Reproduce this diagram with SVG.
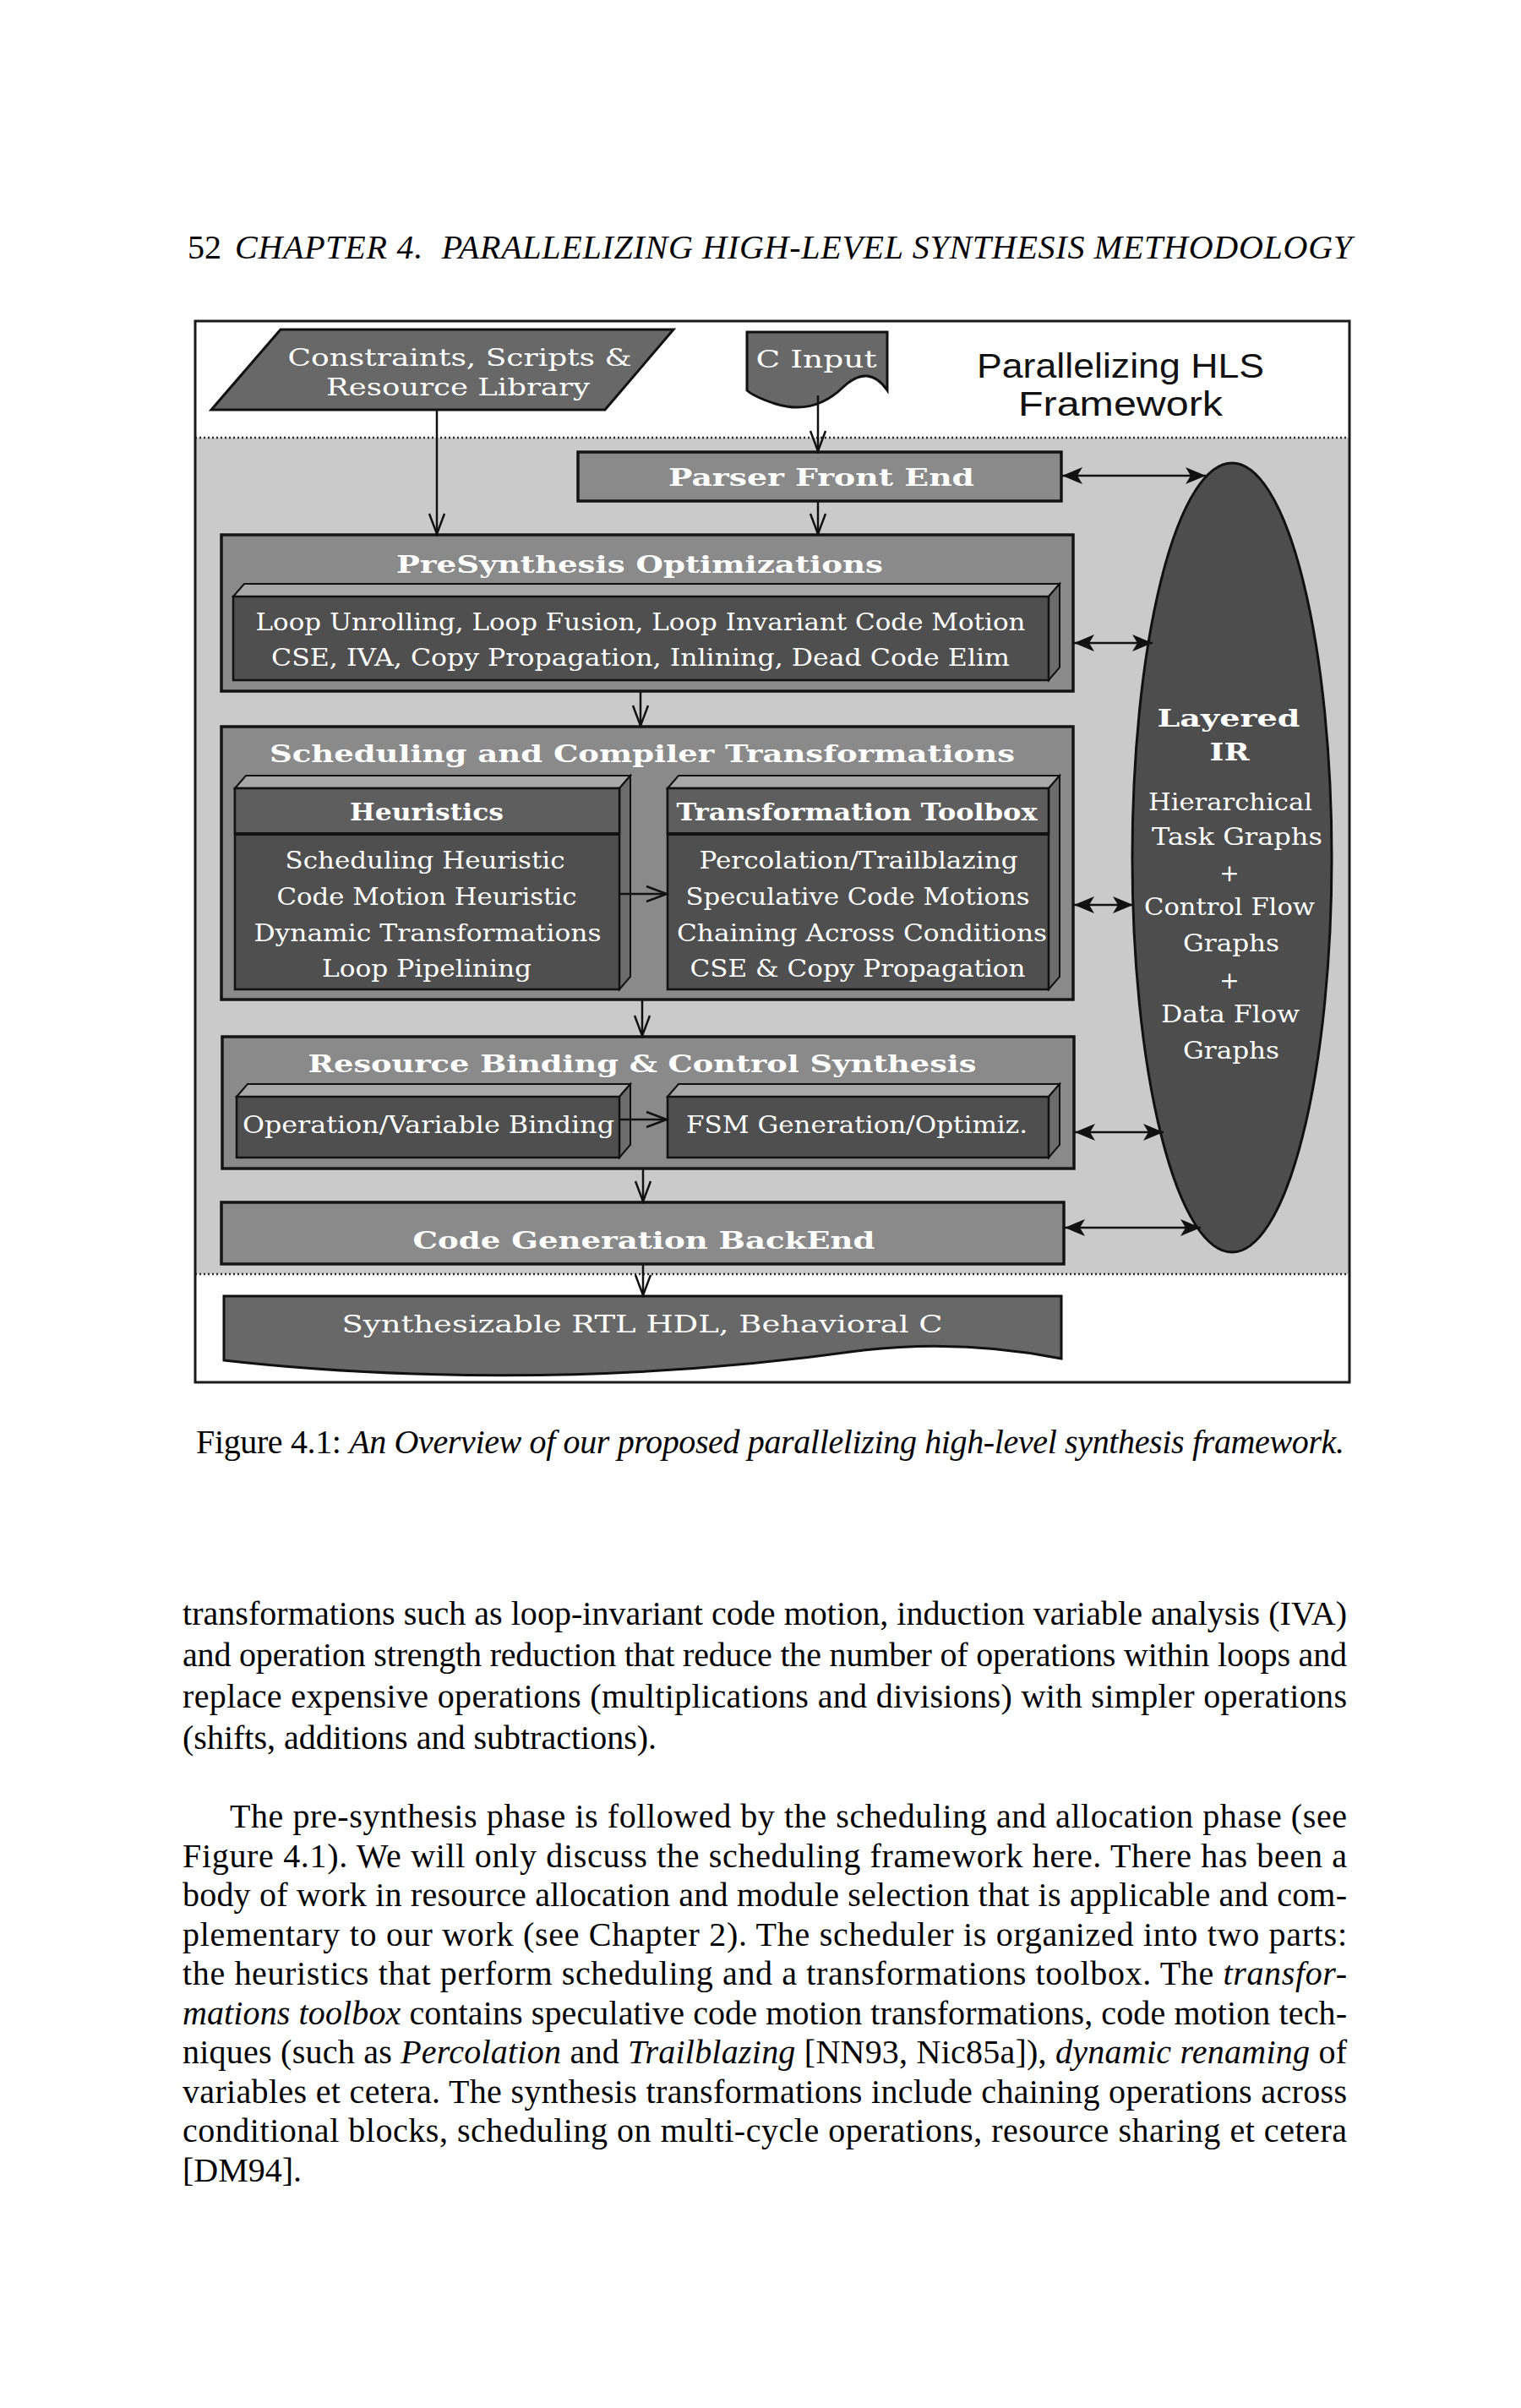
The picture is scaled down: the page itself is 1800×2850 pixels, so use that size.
<svg xmlns="http://www.w3.org/2000/svg" width="1800" height="2850" viewBox="0 0 1800 2850">
<style>
.bg{fill:#ffffff}
.frame{fill:none;stroke:#1a1a1a;stroke-width:3}
.band{fill:#cacaca}
.dots{stroke:#2a2a2a;stroke-width:2.5;stroke-dasharray:2 3;fill:none}
.outer{fill:#8a8a8a;stroke:#141414;stroke-width:3.5}
.front{fill:#4f4f4f;stroke:#111;stroke-width:2.5}
.hdr{fill:#5e5e5e;stroke:#111;stroke-width:2.5}
.topf{fill:#a8a8a8;stroke:#111;stroke-width:2}
.side{fill:#6c6c6c;stroke:#111;stroke-width:2}
.doc{fill:#686868;stroke:#111;stroke-width:3}
.ir{fill:#4d4d4d;stroke:#111;stroke-width:3}
.t{font-family:"DejaVu Serif","Liberation Serif",serif;fill:#ffffff;text-anchor:middle;font-size:28px}
.tb{font-weight:bold}
.sans{font-family:"Liberation Sans","DejaVu Sans",sans-serif;fill:#111;text-anchor:middle;font-size:40px}
.conn{stroke:#111;stroke-width:2.5;fill:none}
.page{font-family:"Liberation Serif","Times New Roman",serif;fill:#000;font-size:40px}
.it{font-style:italic}
</style>
<defs>
<marker id="open" markerUnits="userSpaceOnUse" markerWidth="30" markerHeight="24" refX="26" refY="12" orient="auto"><path d="M2,3 L26,12 L2,21" fill="none" stroke="#111" stroke-width="2.5"/></marker>
<marker id="solid" markerUnits="userSpaceOnUse" markerWidth="28" markerHeight="22" refX="25" refY="11" orient="auto-start-reverse"><path d="M1,1 L25,11 L1,21 L7,11 Z" fill="#111"/></marker>
</defs>
<rect class="bg" x="0" y="0" width="1800" height="2850"/>

<!-- page header -->
<g id="header">
<text class="page" x="222" y="306">52</text>
<text class="page it" x="1600" y="306" font-size="41" text-anchor="end" textLength="1322">CHAPTER 4.<tspan dx="22">PARALLELIZING HIGH-LEVEL SYNTHESIS METHODOLOGY</tspan></text>
</g>

<!-- figure frame and band -->
<g id="figure-frame">
<rect class="band" x="231" y="518" width="1366" height="990"/>
<line class="dots" x1="231" y1="518" x2="1597" y2="518"/>
<line class="dots" x1="231" y1="1508" x2="1597" y2="1508"/>
<rect class="frame" x="231" y="380" width="1366" height="1256"/>
</g>

<g id="title">
<text class="sans" x="1326" y="447" textLength="340" lengthAdjust="spacingAndGlyphs">Parallelizing HLS</text>
<text class="sans" x="1326" y="492" textLength="242" lengthAdjust="spacingAndGlyphs">Framework</text>
</g>

<g id="constraints">
<polygon class="doc" points="332,390 797,390 716,485 250,485"/>
<text class="t" x="544" y="433" font-size="34" textLength="407" lengthAdjust="spacingAndGlyphs">Constraints, Scripts &amp;</text>
<text class="t" x="542" y="468" font-size="34" textLength="312" lengthAdjust="spacingAndGlyphs">Resource Library</text>
</g>

<g id="c-input">
<path class="doc" d="M884,393 H1050 V462 Q1028,430 998,458 Q963,492 918,478 Q893,470 884,462 Z"/>
<text class="t" x="966" y="435" font-size="34" textLength="143" lengthAdjust="spacingAndGlyphs">C Input</text>
</g>

<g id="parser">
<rect class="outer" x="684" y="535" width="572" height="58"/>
<text class="t tb" x="972" y="575" font-size="32" textLength="362" lengthAdjust="spacingAndGlyphs">Parser Front End</text>
</g>

<g id="presynthesis">
<rect class="outer" x="262" y="633" width="1008" height="185"/>
<text class="t tb" x="757" y="678" font-size="34" textLength="576" lengthAdjust="spacingAndGlyphs">PreSynthesis Optimizations</text>
<polygon class="topf" points="276,706 289,691 1254,691 1241,706"/>
<polygon class="side" points="1241,706 1254,691 1254,790 1241,805"/>
<rect class="front" x="276" y="706" width="965" height="99"/>
<text class="t" x="758" y="746" textLength="911" lengthAdjust="spacingAndGlyphs">Loop Unrolling, Loop Fusion, Loop Invariant Code Motion</text>
<text class="t" x="758" y="788" textLength="874" lengthAdjust="spacingAndGlyphs">CSE, IVA, Copy Propagation, Inlining, Dead Code Elim</text>
</g>

<g id="scheduling">
<rect class="outer" x="262" y="860" width="1008" height="323"/>
<text class="t tb" x="760" y="902" font-size="34" textLength="882" lengthAdjust="spacingAndGlyphs">Scheduling and Compiler Transformations</text>
</g>

<g id="heuristics">
<polygon class="topf" points="278,933 291,918 746,918 733,933"/>
<polygon class="side" points="733,933 746,918 746,1156 733,1171"/>
<rect class="front" x="278" y="933" width="455" height="238"/>
<rect class="hdr" x="278" y="933" width="455" height="54"/>
<line x1="278" y1="987" x2="733" y2="987" stroke="#111" stroke-width="4"/>
<text class="t tb" x="505" y="971" textLength="182" lengthAdjust="spacingAndGlyphs">Heuristics</text>
<text class="t" x="503" y="1028" textLength="331" lengthAdjust="spacingAndGlyphs">Scheduling Heuristic</text>
<text class="t" x="505" y="1071" textLength="355" lengthAdjust="spacingAndGlyphs">Code Motion Heuristic</text>
<text class="t" x="506" y="1114" textLength="411" lengthAdjust="spacingAndGlyphs">Dynamic Transformations</text>
<text class="t" x="505" y="1156" textLength="248" lengthAdjust="spacingAndGlyphs">Loop Pipelining</text>
</g>

<g id="toolbox">
<polygon class="topf" points="790,933 803,918 1254,918 1241,933"/>
<polygon class="side" points="1241,933 1254,918 1254,1156 1241,1171"/>
<rect class="front" x="790" y="933" width="451" height="238"/>
<rect class="hdr" x="790" y="933" width="451" height="54"/>
<line x1="790" y1="987" x2="1241" y2="987" stroke="#111" stroke-width="4"/>
<text class="t tb" x="1014" y="971" textLength="427" lengthAdjust="spacingAndGlyphs">Transformation Toolbox</text>
<text class="t" x="1016" y="1028" textLength="377" lengthAdjust="spacingAndGlyphs">Percolation/Trailblazing</text>
<text class="t" x="1015" y="1071" textLength="407" lengthAdjust="spacingAndGlyphs">Speculative Code Motions</text>
<text class="t" x="1020" y="1114" textLength="438" lengthAdjust="spacingAndGlyphs">Chaining Across Conditions</text>
<text class="t" x="1015" y="1156" textLength="397" lengthAdjust="spacingAndGlyphs">CSE &amp; Copy Propagation</text>
</g>

<g id="resource-binding">
<rect class="outer" x="263" y="1227" width="1008" height="156"/>
<text class="t tb" x="760" y="1269" font-size="34" textLength="791" lengthAdjust="spacingAndGlyphs">Resource Binding &amp; Control Synthesis</text>
</g>

<g id="op-binding">
<polygon class="topf" points="280,1298 293,1283 746,1283 733,1298"/>
<polygon class="side" points="733,1298 746,1283 746,1355 733,1370"/>
<rect class="front" x="280" y="1298" width="453" height="72"/>
<text class="t" x="507" y="1341" textLength="440" lengthAdjust="spacingAndGlyphs">Operation/Variable Binding</text>
</g>

<g id="fsm">
<polygon class="topf" points="790,1298 803,1283 1254,1283 1241,1298"/>
<polygon class="side" points="1241,1298 1254,1283 1254,1355 1241,1370"/>
<rect class="front" x="790" y="1298" width="451" height="72"/>
<text class="t" x="1014" y="1341" textLength="404" lengthAdjust="spacingAndGlyphs">FSM Generation/Optimiz.</text>
</g>

<g id="codegen">
<rect class="outer" x="262" y="1423" width="997" height="73"/>
<text class="t tb" x="762" y="1478" font-size="34" textLength="547" lengthAdjust="spacingAndGlyphs">Code Generation BackEnd</text>
</g>

<g id="output">
<path class="doc" d="M265,1534 H1256 V1608 Q1140,1585 1022,1598 Q760,1635 490,1626 Q370,1622 265,1610 Z"/>
<text class="t" x="760" y="1577" font-size="34" textLength="711" lengthAdjust="spacingAndGlyphs">Synthesizable RTL HDL, Behavioral C</text>
</g>

<g id="layered-ir">
<ellipse class="ir" cx="1458" cy="1015" rx="118" ry="467"/>
<text class="t tb" x="1454" y="860" font-size="34" textLength="169" lengthAdjust="spacingAndGlyphs">Layered</text>
<text class="t tb" x="1455" y="900" font-size="34" textLength="47" lengthAdjust="spacingAndGlyphs">IR</text>
<text class="t" x="1456" y="959" textLength="194" lengthAdjust="spacingAndGlyphs">Hierarchical</text>
<text class="t" x="1464" y="1000" textLength="202" lengthAdjust="spacingAndGlyphs">Task Graphs</text>
<text class="t" x="1455" y="1043">+</text>
<text class="t" x="1455" y="1083" textLength="202" lengthAdjust="spacingAndGlyphs">Control Flow</text>
<text class="t" x="1457" y="1126" textLength="114" lengthAdjust="spacingAndGlyphs">Graphs</text>
<text class="t" x="1455" y="1170">+</text>
<text class="t" x="1456" y="1210" textLength="164" lengthAdjust="spacingAndGlyphs">Data Flow</text>
<text class="t" x="1457" y="1253" textLength="114" lengthAdjust="spacingAndGlyphs">Graphs</text>
</g>

<g id="connectors">
<path class="conn" d="M517,485 V632" marker-end="url(#open)"/>
<path class="conn" d="M968,468 V534" marker-end="url(#open)"/>
<path class="conn" d="M968,593 V632" marker-end="url(#open)"/>
<path class="conn" d="M758,818 V859" marker-end="url(#open)"/>
<path class="conn" d="M760,1183 V1226" marker-end="url(#open)"/>
<path class="conn" d="M761,1383 V1422" marker-end="url(#open)"/>
<path class="conn" d="M761,1496 V1533" marker-end="url(#open)"/>
<path class="conn" d="M733,1058 H789" marker-end="url(#open)"/>
<path class="conn" d="M733,1325 H789" marker-end="url(#open)"/>
<path class="conn" d="M1257,563 H1427" marker-start="url(#solid)" marker-end="url(#solid)"/>
<path class="conn" d="M1271,761 H1364" marker-start="url(#solid)" marker-end="url(#solid)"/>
<path class="conn" d="M1271,1071 H1341" marker-start="url(#solid)" marker-end="url(#solid)"/>
<path class="conn" d="M1272,1340 H1377" marker-start="url(#solid)" marker-end="url(#solid)"/>
<path class="conn" d="M1260,1453 H1421" marker-start="url(#solid)" marker-end="url(#solid)"/>
</g>

<!-- caption -->
<g id="caption">
<text class="page" x="232" y="1720" textLength="1359">Figure 4.1: <tspan class="it">An Overview of our proposed parallelizing high-level synthesis framework.</tspan></text>
</g>

<!-- body text -->
<g id="body">
<text class="page" x="216" y="1923" textLength="1378">transformations such as loop-invariant code motion, induction variable analysis (IVA)</text>
<text class="page" x="216" y="1972" textLength="1378">and operation strength reduction that reduce the number of operations within loops and</text>
<text class="page" x="216" y="2021" textLength="1378">replace expensive operations (multiplications and divisions) with simpler operations</text>
<text class="page" x="216" y="2070">(shifts, additions and subtractions).</text>
<text class="page" x="272" y="2163" textLength="1322">The pre-synthesis phase is followed by the scheduling and allocation phase (see</text>
<text class="page" x="216" y="2209.5" textLength="1378">Figure 4.1). We will only discuss the scheduling framework here. There has been a</text>
<text class="page" x="216" y="2256" textLength="1378">body of work in resource allocation and module selection that is applicable and com-</text>
<text class="page" x="216" y="2302.5" textLength="1378">plementary to our work (see Chapter 2). The scheduler is organized into two parts:</text>
<text class="page" x="216" y="2349" textLength="1378">the heuristics that perform scheduling and a transformations toolbox. The <tspan class="it">transfor-</tspan></text>
<text class="page" x="216" y="2395.5" textLength="1378"><tspan class="it">mations toolbox</tspan> contains speculative code motion transformations, code motion tech-</text>
<text class="page" x="216" y="2442" textLength="1378">niques (such as <tspan class="it">Percolation</tspan> and <tspan class="it">Trailblazing</tspan> [NN93, Nic85a]), <tspan class="it">dynamic renaming</tspan> of</text>
<text class="page" x="216" y="2488.5" textLength="1378">variables et cetera. The synthesis transformations include chaining operations across</text>
<text class="page" x="216" y="2535" textLength="1378">conditional blocks, scheduling on multi-cycle operations, resource sharing et cetera</text>
<text class="page" x="216" y="2581.5">[DM94].</text>
</g>
</svg>
